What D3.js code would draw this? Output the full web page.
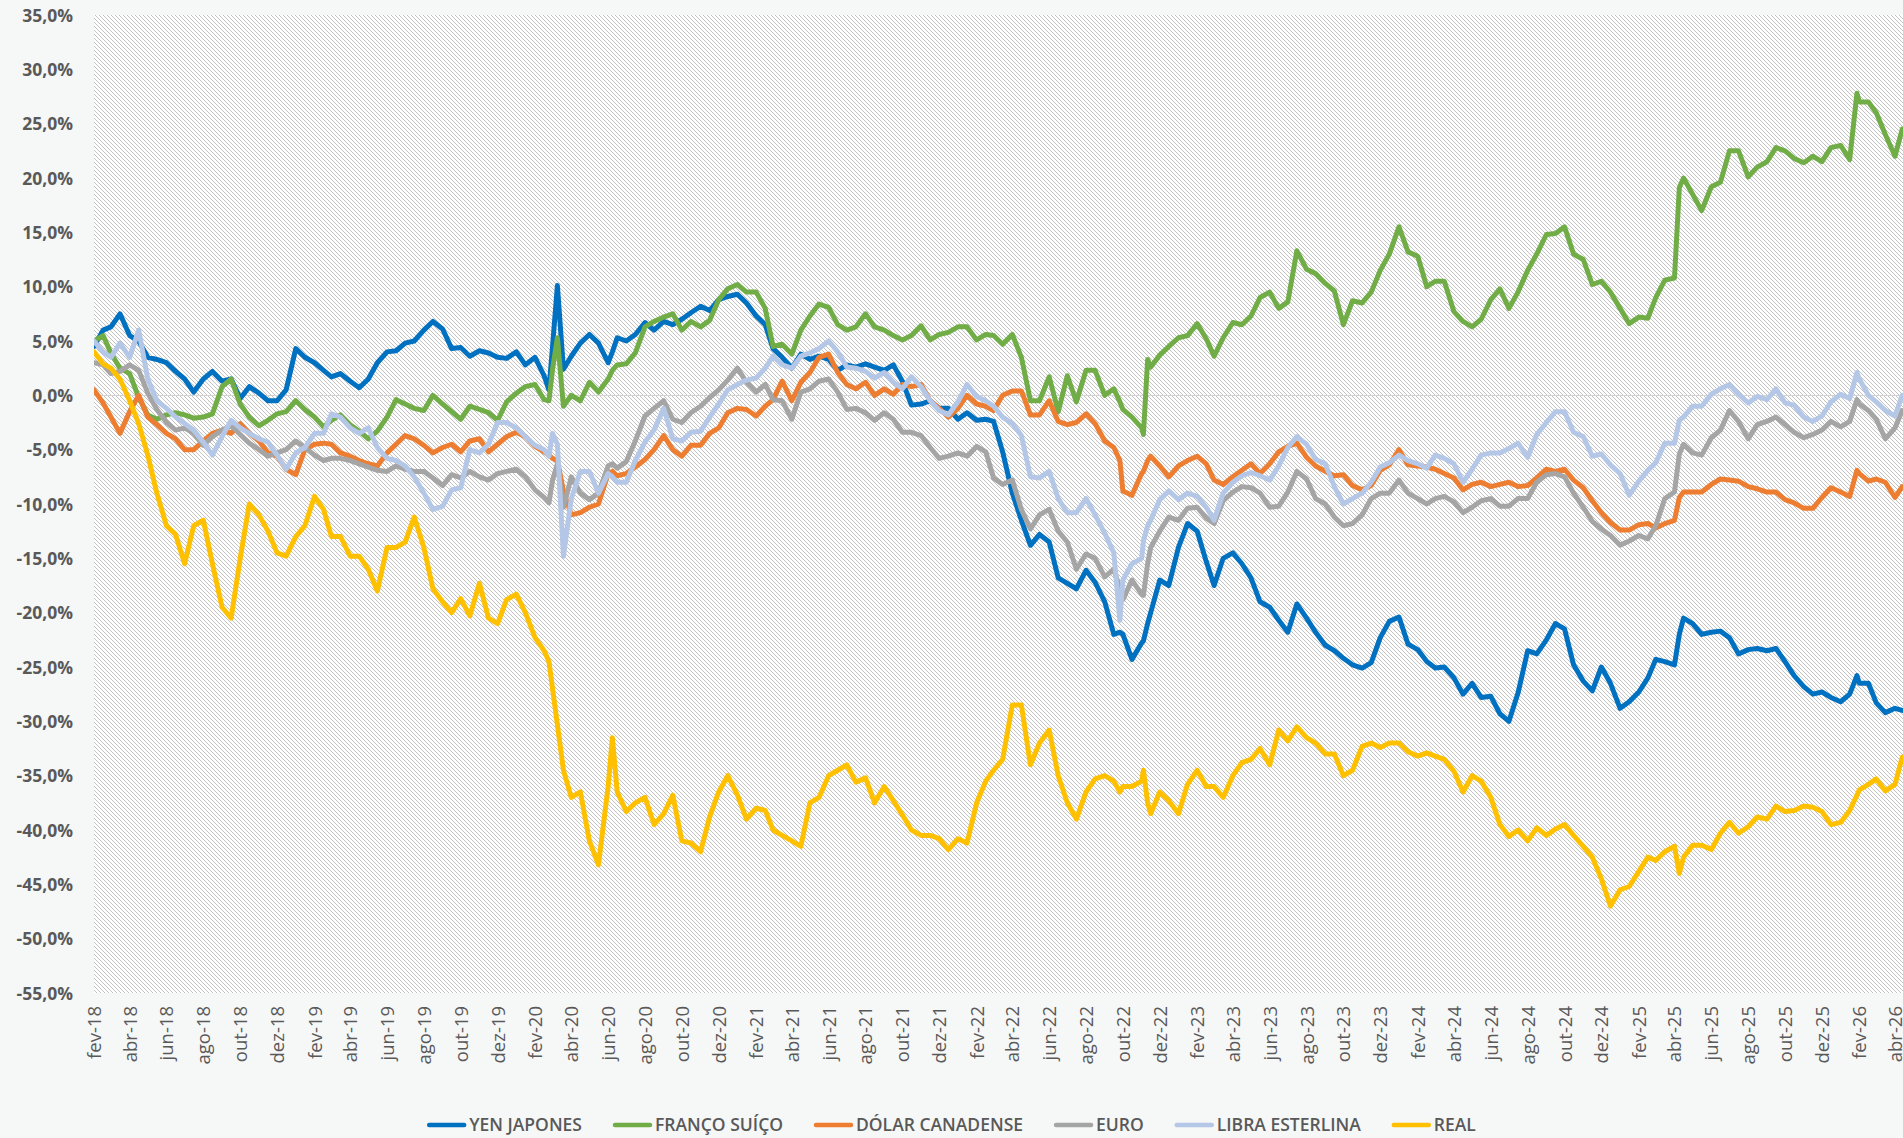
<!DOCTYPE html>
<html>
<head>
<meta charset="utf-8">
<script src="https://cdn.jsdelivr.net/npm/d3@7"></script>
<style>
  html, body { margin: 0; padding: 0; background: #f6f7f7; overflow: hidden; }
  svg { display: block; }
  text { font-family: "Open Sans", "DejaVu Sans", sans-serif; fill: #595959; }
</style>
</head>
<body>
<svg id="chart" width="1903" height="1138"></svg>
<script>
// Observation dates (roughly twice a month, plus a few turning points)
const dates = [
  // 2018
  "2018-02-01","2018-02-16","2018-03-01","2018-03-16","2018-04-01","2018-04-16","2018-05-01","2018-05-16",
  "2018-06-01","2018-06-16","2018-07-01","2018-07-16","2018-08-01","2018-08-16","2018-09-01","2018-09-16",
  "2018-10-01","2018-10-16","2018-11-01","2018-11-16","2018-12-01","2018-12-16",
  // 2019
  "2019-01-01","2019-01-16","2019-02-01","2019-02-16","2019-03-01","2019-03-16","2019-04-01","2019-04-16",
  "2019-05-01","2019-05-16","2019-06-01","2019-06-16","2019-07-01","2019-07-16","2019-08-01","2019-08-16",
  "2019-09-01","2019-09-16","2019-10-01","2019-10-16","2019-11-01","2019-11-16","2019-12-01","2019-12-16",
  // 2020
  "2020-01-01","2020-01-16","2020-02-01","2020-02-16","2020-02-24","2020-03-01","2020-03-09","2020-03-19",
  "2020-04-01","2020-04-16","2020-05-01","2020-05-16","2020-06-01","2020-06-08","2020-06-16","2020-07-01",
  "2020-07-16","2020-08-01","2020-08-16","2020-09-01","2020-09-16","2020-10-01","2020-10-16","2020-11-01",
  "2020-11-16","2020-12-01","2020-12-16",
  // 2021
  "2021-01-01","2021-01-16","2021-02-01","2021-02-16","2021-03-01","2021-03-16","2021-04-01","2021-04-16",
  "2021-05-01","2021-05-16","2021-06-01","2021-06-16","2021-07-01","2021-07-16","2021-08-01","2021-08-16",
  "2021-09-01","2021-09-16","2021-10-01","2021-10-16","2021-11-01","2021-11-16","2021-12-01","2021-12-16",
  // 2022
  "2022-01-01","2022-01-16","2022-02-01","2022-02-16","2022-03-01","2022-03-16","2022-04-01","2022-04-16",
  "2022-05-01","2022-05-16","2022-06-01","2022-06-16","2022-07-01","2022-07-16","2022-08-01","2022-08-16",
  "2022-09-01","2022-09-16","2022-09-26","2022-10-01","2022-10-16","2022-11-01","2022-11-04","2022-11-11",
  "2022-11-16","2022-12-01","2022-12-16",
  // 2023
  "2023-01-01","2023-01-16","2023-02-01","2023-02-16","2023-03-01","2023-03-16","2023-04-01","2023-04-16",
  "2023-05-01","2023-05-16","2023-06-01","2023-06-16","2023-07-01","2023-07-16","2023-08-01","2023-08-16",
  "2023-09-01","2023-09-16","2023-10-01","2023-10-16","2023-11-01","2023-11-16","2023-12-01","2023-12-16",
  // 2024
  "2024-01-01","2024-01-16","2024-02-01","2024-02-16","2024-03-01","2024-03-16","2024-04-01","2024-04-16",
  "2024-05-01","2024-05-16","2024-06-01","2024-06-16","2024-07-01","2024-07-16","2024-08-01","2024-08-16",
  "2024-09-01","2024-09-16","2024-10-01","2024-10-16","2024-11-01","2024-11-16","2024-12-01","2024-12-16",
  // 2025
  "2025-01-01","2025-01-16","2025-02-01","2025-02-16","2025-03-01","2025-03-16","2025-04-01","2025-04-09",
  "2025-04-16","2025-05-01","2025-05-16","2025-06-01","2025-06-16","2025-07-01","2025-07-16","2025-08-01",
  "2025-08-16","2025-09-01","2025-09-16","2025-10-01","2025-10-16","2025-11-01","2025-11-16","2025-12-01",
  "2025-12-16",
  // 2026
  "2026-01-01","2026-01-16","2026-01-28","2026-02-01","2026-02-16","2026-03-01","2026-03-16","2026-04-01","2026-04-13"
];

// Accumulated change (%) of each currency
const yenJapones = [
  4.5, 6.0, 6.3, 7.5, 5.5, 5.0, 3.5, 3.3, 3.0, 2.2, 1.5, 0.3, 1.5, 2.2, 1.3, 1.5, -0.3, 0.8, 0.2, -0.5, -0.5, 0.5,
  4.3, 3.5, 3.0, 2.3, 1.7, 2.0, 1.3, 0.7, 1.5, 3.0, 4.0, 4.1, 4.8, 5.0, 6.0, 6.8, 6.1, 4.3, 4.4, 3.6, 4.1, 3.9, 3.5, 3.4,
  4.0, 2.8, 3.5, 1.8, 0.5, 4.5, 10.1, 2.4, 3.6, 4.8, 5.6, 4.8, 3.0, 4.0, 5.3, 5.0, 5.6, 6.7, 6.0, 6.8, 6.5, 7.0, 7.6, 8.2, 7.8, 8.8, 9.1,
  9.3, 8.5, 7.3, 6.5, 4.3, 3.5, 2.5, 3.8, 3.3, 3.6, 3.3, 2.3, 2.8, 2.6, 2.9, 2.6, 2.3, 2.8, 1.3, -0.9, -0.8, -0.5, -1.2, -1.2,
  -2.2, -1.6, -2.3, -2.2, -2.4, -5.2, -9.0, -11.5, -13.8, -12.8, -13.5, -16.8, -17.3, -17.8, -16.1, -17.2, -19.0, -22.0, -21.8, -22.0, -24.3, -22.8, -22.6, -21.0, -20.0, -17.0, -17.5,
  -14.0, -11.8, -12.5, -15.3, -17.5, -15.0, -14.5, -15.5, -16.8, -19.0, -19.5, -20.7, -21.8, -19.2, -20.5, -21.8, -23.0, -23.5, -24.2, -24.8, -25.1, -24.6, -22.3, -20.8,
  -20.4, -22.9, -23.4, -24.5, -25.1, -25.0, -26.0, -27.5, -26.5, -27.8, -27.7, -29.3, -30.0, -27.4, -23.5, -23.8, -22.5, -21.0, -21.5, -24.8, -26.3, -27.2, -25.0, -26.5,
  -28.8, -28.2, -27.3, -26.0, -24.3, -24.5, -24.8, -22.0, -20.5, -21.0, -22.0, -21.8, -21.7, -22.3, -23.8, -23.4, -23.3, -23.5, -23.3, -24.5, -25.8, -26.8, -27.5, -27.3, -27.8,
  -28.2, -27.5, -25.8, -26.5, -26.5, -28.3, -29.2, -28.8, -29.0
];
const francoSuico = [
  5.0, 5.5, 3.9, 2.5, 2.0, -0.2, -1.8, -2.2, -1.8, -1.6, -1.8, -2.1, -2.0, -1.7, 0.8, 1.5, -0.8, -2.0, -2.8, -2.3, -1.7, -1.5,
  -0.5, -1.3, -2.0, -2.9, -2.3, -1.8, -2.7, -3.3, -4.0, -3.3, -2.0, -0.4, -0.8, -1.2, -1.4, 0.0, -0.8, -1.5, -2.2, -1.0, -1.3, -1.6, -2.3, -0.6,
  0.2, 0.8, 1.0, -0.4, -0.5, 2.4, 5.3, -1.0, 0.0, -0.5, 1.2, 0.3, 1.5, 2.3, 2.8, 2.9, 3.9, 6.3, 6.8, 7.2, 7.5, 6.0, 6.8, 6.3, 6.9, 8.8, 9.8,
  10.2, 9.5, 9.5, 8.0, 4.5, 4.7, 3.8, 6.0, 7.3, 8.4, 8.1, 6.5, 6.0, 6.3, 7.5, 6.3, 6.0, 5.5, 5.1, 5.5, 6.4, 5.1, 5.6, 5.8,
  6.3, 6.3, 5.1, 5.6, 5.5, 4.7, 5.6, 3.5, -0.5, -0.5, 1.7, -1.5, 1.8, -0.6, 2.3, 2.3, 0.0, 0.6, -0.6, -1.3, -2.0, -3.0, -3.6, 3.3, 2.6, 3.7, 4.5,
  5.3, 5.5, 6.6, 5.2, 3.6, 5.3, 6.7, 6.5, 7.3, 9.0, 9.5, 8.0, 8.6, 13.3, 11.6, 11.2, 10.3, 9.6, 6.5, 8.7, 8.5, 9.5, 11.5, 13.0,
  15.5, 13.2, 12.8, 10.0, 10.5, 10.5, 7.7, 6.8, 6.3, 7.0, 8.8, 9.8, 8.0, 9.5, 11.5, 13.0, 14.8, 14.9, 15.5, 13.0, 12.5, 10.2, 10.5, 9.5,
  8.0, 6.6, 7.2, 7.1, 9.0, 10.6, 10.8, 19.1, 20.0, 18.5, 17.0, 19.2, 19.6, 22.5, 22.5, 20.1, 21.0, 21.5, 22.8, 22.5, 21.8, 21.4, 22.0, 21.5, 22.8,
  23.0, 21.7, 27.8, 27.0, 27.0, 26.0, 24.0, 22.0, 24.5
];
const dolarCanadense = [
  0.5, -0.7, -2.0, -3.5, -1.5, 0.0, -2.0, -2.7, -3.5, -4.0, -5.0, -5.0, -4.2, -3.5, -3.2, -3.5, -2.6, -3.5, -4.2, -5.3, -5.6, -6.8,
  -7.3, -5.0, -4.5, -4.4, -4.5, -5.3, -5.6, -6.0, -6.3, -6.5, -5.3, -4.5, -3.7, -4.0, -4.6, -5.3, -4.8, -4.5, -5.2, -4.2, -4.0, -5.2, -4.5, -3.8,
  -3.4, -3.8, -4.7, -5.2, -5.5, -5.8, -6.0, -8.8, -11.0, -10.8, -10.3, -10.0, -7.2, -7.0, -7.4, -7.2, -6.6, -5.9, -5.0, -3.7, -5.0, -5.6, -4.6, -4.6, -3.5, -3.0, -1.6,
  -1.2, -1.3, -1.9, -1.0, -0.4, 1.3, -0.5, 1.2, 2.1, 3.5, 3.8, 2.1, 1.0, 0.6, 1.2, 0.0, 0.6, 0.1, 1.0, 0.8, 1.0, -0.5, -1.2, -2.0,
  -1.2, 0.0, -0.8, -1.0, -1.4, 0.0, 0.4, 0.4, -1.8, -1.8, -0.5, -2.4, -2.7, -2.5, -1.7, -2.6, -4.2, -4.8, -6.0, -8.8, -9.2, -7.2, -7.0, -6.0, -5.6, -6.5, -7.5,
  -6.5, -6.0, -5.6, -6.3, -7.8, -8.2, -7.5, -6.9, -6.3, -7.2, -6.3, -5.2, -4.7, -4.4, -5.7, -6.5, -7.0, -7.4, -7.3, -8.3, -8.7, -8.3, -6.9, -6.4,
  -5.0, -6.4, -6.5, -6.6, -6.8, -7.2, -7.6, -8.7, -8.2, -8.0, -8.4, -8.2, -8.0, -8.4, -8.3, -7.6, -6.8, -7.0, -6.8, -7.8, -8.5, -9.7, -10.8, -11.7,
  -12.4, -12.4, -11.9, -11.8, -12.2, -11.8, -11.5, -9.4, -8.9, -8.9, -8.9, -8.2, -7.7, -7.8, -7.9, -8.4, -8.6, -8.9, -8.9, -9.6, -9.9, -10.4, -10.4, -9.4, -8.5,
  -8.9, -9.3, -6.9, -7.2, -7.9, -7.7, -8.0, -9.4, -8.4
];
const euro = [
  3.0, 2.8, 2.0, 2.2, 2.8, 2.3, 0.2, -1.3, -2.5, -3.2, -3.0, -3.5, -4.6, -3.8, -3.2, -2.8, -3.6, -4.4, -5.0, -5.6, -5.3, -5.0,
  -4.2, -4.8, -5.5, -6.0, -5.8, -5.8, -6.0, -6.3, -6.6, -6.9, -7.0, -6.5, -6.8, -7.0, -7.0, -7.6, -8.3, -7.3, -7.6, -7.0, -7.5, -7.8, -7.2, -7.0,
  -6.8, -7.5, -8.7, -9.4, -9.9, -7.8, -6.3, -10.3, -7.5, -9.0, -9.6, -9.0, -6.5, -6.3, -6.7, -6.1, -4.2, -1.9, -1.2, -0.5, -2.2, -2.5, -1.6, -1.0, -0.2, 0.5, 1.4,
  2.5, 1.2, 0.3, 1.0, -0.4, -0.5, -2.2, 0.3, 0.6, 1.3, 1.5, 0.3, -1.3, -1.2, -1.6, -2.3, -1.6, -2.2, -3.4, -3.4, -3.7, -4.8, -5.8, -5.6,
  -5.3, -5.6, -4.7, -5.2, -7.6, -8.2, -7.8, -10.5, -12.3, -11.0, -10.5, -12.5, -13.5, -16.0, -14.6, -15.0, -16.7, -16.0, -17.8, -18.8, -17.0, -18.3, -18.4, -15.5, -14.0, -12.5, -11.2,
  -11.5, -10.4, -10.3, -11.3, -11.8, -9.7, -8.9, -8.4, -8.5, -9.0, -10.3, -10.2, -8.9, -7.0, -7.7, -9.5, -10.0, -11.2, -12.0, -11.8, -11.0, -9.5, -9.0, -9.0,
  -7.8, -9.0, -9.5, -10.0, -9.5, -9.3, -9.8, -10.8, -10.3, -9.7, -9.5, -10.2, -10.2, -9.5, -9.5, -8.0, -7.3, -7.2, -7.5, -9.0, -10.3, -11.6, -12.3, -12.9,
  -13.8, -13.4, -12.9, -13.2, -12.0, -9.5, -8.9, -5.4, -4.5, -5.3, -5.5, -3.9, -3.2, -1.4, -2.4, -4.0, -2.7, -2.4, -2.0, -2.7, -3.4, -3.9, -3.6, -3.2, -2.4,
  -2.9, -2.4, -0.4, -0.8, -1.4, -2.2, -4.0, -3.0, -1.4
];
const libraEsterlina = [
  5.0, 4.0, 3.5, 4.8, 3.5, 6.0, 1.5, -0.5, -1.2, -2.0, -2.6, -3.2, -4.3, -5.5, -3.8, -2.3, -3.0, -3.5, -4.0, -4.3, -5.5, -6.8,
  -5.3, -4.8, -3.5, -3.5, -1.7, -2.0, -3.0, -3.5, -3.0, -4.8, -5.8, -6.0, -6.5, -7.5, -9.0, -10.5, -10.2, -8.7, -8.5, -5.0, -5.3, -4.5, -2.5, -2.5,
  -3.0, -3.8, -4.6, -5.0, -5.6, -3.5, -4.5, -14.8, -9.5, -7.0, -7.0, -9.0, -7.2, -7.5, -8.0, -8.0, -6.0, -4.3, -3.2, -1.2, -4.0, -4.2, -3.4, -3.3, -2.0, -0.8, 0.5,
  1.0, 1.4, 1.6, 2.5, 3.6, 2.8, 2.5, 3.6, 3.9, 4.3, 5.0, 4.0, 2.6, 2.5, 2.2, 1.6, 2.1, 1.2, 0.6, 1.7, 0.8, -0.5, -1.4, -1.8,
  -0.6, 1.0, -0.1, -0.5, -1.0, -2.0, -2.6, -3.7, -7.5, -7.6, -7.0, -9.5, -10.8, -10.8, -9.5, -11.0, -12.7, -14.5, -20.7, -17.0, -15.5, -15.0, -13.4, -12.0, -11.5, -9.6, -8.8,
  -9.6, -9.0, -9.3, -10.3, -11.5, -9.0, -8.0, -7.4, -7.1, -7.4, -7.8, -6.5, -4.8, -3.8, -4.5, -5.9, -6.3, -8.4, -10.0, -9.5, -9.0, -8.0, -6.6, -6.2,
  -5.5, -6.0, -6.3, -6.7, -5.5, -5.8, -6.3, -8.0, -6.8, -5.5, -5.3, -5.3, -4.9, -4.4, -5.7, -3.6, -2.5, -1.5, -1.5, -3.4, -3.8, -5.6, -5.4, -6.4,
  -7.2, -9.2, -7.9, -6.9, -6.2, -4.4, -4.4, -2.3, -2.0, -1.0, -1.0, 0.1, 0.6, 1.0, 0.1, -0.7, -0.1, -0.4, 0.6, -0.7, -0.9, -2.0, -2.4, -1.9, -0.6,
  0.1, -0.3, 2.1, 1.5, 0.0, -0.6, -1.4, -1.9, 0.0
];
const real = [
  4.0, 2.9, 2.5, 1.5, -0.5, -2.6, -5.5, -9.0, -12.0, -12.8, -15.5, -12.0, -11.5, -15.5, -19.5, -20.5, -15.0, -10.0, -11.0, -12.5, -14.5, -14.8,
  -13.0, -12.0, -9.3, -10.5, -13.0, -13.0, -14.8, -14.8, -16.0, -18.0, -14.0, -14.0, -13.5, -11.2, -14.0, -17.8, -19.0, -20.0, -18.7, -20.3, -17.3, -20.5, -21.0, -18.8,
  -18.3, -20.0, -22.3, -23.5, -24.5, -27.0, -30.3, -34.5, -37.0, -36.5, -41.0, -43.2, -36.0, -31.5, -36.5, -38.3, -37.5, -37.0, -39.5, -38.5, -36.8, -41.0, -41.2, -42.0, -38.8, -36.5, -35.0,
  -36.8, -39.0, -38.0, -38.2, -40.0, -40.5, -41.0, -41.5, -37.5, -37.0, -35.0, -34.5, -34.0, -35.6, -35.2, -37.5, -36.0, -37.3, -38.6, -40.0, -40.5, -40.5, -40.8, -41.8,
  -40.8, -41.2, -37.5, -35.5, -34.5, -33.5, -28.5, -28.5, -34.0, -32.0, -30.8, -35.0, -37.5, -39.0, -36.5, -35.3, -35.0, -35.5, -36.5, -36.0, -36.0, -35.5, -34.5, -37.5, -38.5, -36.5, -37.3,
  -38.5, -35.8, -34.5, -36.0, -36.0, -37.0, -35.0, -33.8, -33.5, -32.5, -34.0, -30.8, -31.8, -30.5, -31.5, -32.0, -33.0, -33.0, -35.0, -34.5, -32.3, -32.0, -32.4, -32.0,
  -32.0, -32.8, -33.2, -32.9, -33.2, -33.5, -34.6, -36.5, -35.0, -35.5, -37.0, -39.5, -40.6, -40.0, -41.0, -39.8, -40.5, -39.9, -39.5, -40.5, -41.5, -42.5, -44.5, -47.0,
  -45.5, -45.2, -43.8, -42.5, -42.8, -42.0, -41.5, -44.0, -42.5, -41.4, -41.4, -41.8, -40.3, -39.3, -40.3, -39.7, -38.8, -39.0, -37.8, -38.3, -38.2, -37.8, -37.9, -38.3, -39.5,
  -39.3, -38.2, -36.8, -36.3, -35.8, -35.3, -36.4, -35.8, -33.3
];

const seriesNames = ["YEN JAPONES", "FRANÇO SUÍÇO", "DÓLAR CANADENSE", "EURO", "LIBRA ESTERLINA", "REAL"];
const seriesColors = ["#0070c0", "#70ad47", "#ed7d31", "#a5a5a5", "#b4c7e7", "#ffc000"];
const seriesValues = [yenJapones, francoSuico, dolarCanadense, euro, libraEsterlina, real];

// Axis ticks
const yTicks = [35, 30, 25, 20, 15, 10, 5, 0, -5, -10, -15, -20, -25, -30, -35, -40, -45, -50, -55];
const monthNames = ["jan", "fev", "mar", "abr", "mai", "jun", "jul", "ago", "set", "out", "nov", "dez"];
const xTickStart = "2018-02-01";
const xTickEnd = "2026-04-01";

const svg = d3.select("#chart");
const W = 1903, H = 1138;
const plot = { left: 94, top: 15, right: 1903, bottom: 993 };

const parse = d3.timeParse("%Y-%m-%d");
const parsedDates = dates.map(parse);

const x = d3.scaleTime()
  .domain([parse(xTickStart), parse(xTickEnd)])
  .range([94, 1895]);
const y = d3.scaleLinear()
  .domain([-55, 35])
  .range([plot.bottom, plot.top]);

// Hatched plot background
const defs = svg.append("defs");
const pat = defs.append("pattern")
  .attr("id", "hatch")
  .attr("patternUnits", "userSpaceOnUse")
  .attr("width", 4).attr("height", 4);
pat.append("rect").attr("width", 4).attr("height", 4).attr("fill", "#ffffff");
for (let i = 0; i < 4; i++) {
  pat.append("rect").attr("x", i).attr("y", i).attr("width", 1).attr("height", 1).attr("fill", "#c2c2c2");
}
defs.append("clipPath").attr("id", "plotClip")
  .append("rect")
  .attr("x", plot.left).attr("y", plot.top - 10)
  .attr("width", plot.right - plot.left).attr("height", plot.bottom - plot.top + 20);

svg.append("rect")
  .attr("x", plot.left).attr("y", plot.top)
  .attr("width", plot.right - plot.left).attr("height", plot.bottom - plot.top)
  .attr("fill", "url(#hatch)")
  .attr("shape-rendering", "crispEdges");

// Zero line
svg.append("line")
  .attr("x1", plot.left).attr("x2", plot.right)
  .attr("y1", Math.round(y(0)) + 0.5).attr("y2", Math.round(y(0)) + 0.5)
  .attr("stroke", "#d4d4d4").attr("stroke-width", 1.2);

// Y axis labels
const fmtPct = v => v.toFixed(1).replace(".", ",") + "%";
const yAxis = d3.axisLeft(y).tickValues(yTicks).tickFormat(fmtPct).tickSize(0).tickPadding(0);
const gy = svg.append("g").attr("transform", "translate(73,0)").call(yAxis);
gy.select(".domain").remove();
gy.selectAll("text")
  .attr("font-family", "'Open Sans', sans-serif")
  .attr("font-size", 17.5)
  .attr("font-weight", 700)
  .attr("fill", "#595959")
  .attr("dy", "0.36em");

// X axis labels (every two months, rotated)
const xTicks = d3.timeMonth.range(parse(xTickStart), d3.timeDay.offset(parse(xTickEnd), 1), 2);
const fmtMonth = d => monthNames[d.getMonth()] + "-" + String(d.getFullYear()).slice(2);
const xAxis = d3.axisBottom(x).tickValues(xTicks).tickFormat(fmtMonth).tickSize(0).tickPadding(0);
const gx = svg.append("g").attr("transform", "translate(0,1006)").call(xAxis);
gx.select(".domain").remove();
gx.selectAll("text")
  .attr("font-family", "'Open Sans', sans-serif")
  .attr("font-size", 18.5)
  .attr("font-weight", 400)
  .attr("fill", "#595959")
  .attr("text-anchor", "end")
  .attr("transform", "rotate(-90)")
  .attr("x", 0).attr("y", 0)
  .attr("dy", "0.35em");

// Series lines
const line = d3.line()
  .x(d => x(d.date))
  .y(d => y(d.value));
const gLines = svg.append("g").attr("clip-path", "url(#plotClip)");
seriesValues.forEach((vals, i) => {
  const pts = vals.map((v, j) => ({ date: parsedDates[j], value: v }));
  gLines.append("path")
    .datum(pts)
    .attr("d", line)
    .attr("fill", "none")
    .attr("stroke", seriesColors[i])
    .attr("stroke-width", 5)
    .attr("stroke-linejoin", "round")
    .attr("stroke-linecap", "round");
});

// Legend, centred under the chart
const gLeg = svg.append("g");
const swatch = 39, gapText = 3, gapItem = 31, legY = 1125;
const items = seriesNames.map((name, i) => {
  const g = gLeg.append("g");
  g.append("line")
    .attr("x1", 2).attr("x2", swatch - 2)
    .attr("y1", legY).attr("y2", legY)
    .attr("stroke", seriesColors[i]).attr("stroke-width", 4.5)
    .attr("stroke-linecap", "round");
  const t = g.append("text")
    .attr("x", swatch + gapText).attr("y", legY)
    .attr("dy", "0.36em")
    .attr("font-size", 17.5)
    .attr("font-weight", 600)
    .attr("fill", "#595959")
    .text(name);
  return { g, w: swatch + gapText + t.node().getComputedTextLength() };
});
const total = d3.sum(items, d => d.w) + gapItem * (items.length - 1);
let cx = W / 2 - total / 2;
items.forEach(it => {
  it.g.attr("transform", `translate(${cx},0)`);
  cx += it.w + gapItem;
});
</script>
</body>
</html>
